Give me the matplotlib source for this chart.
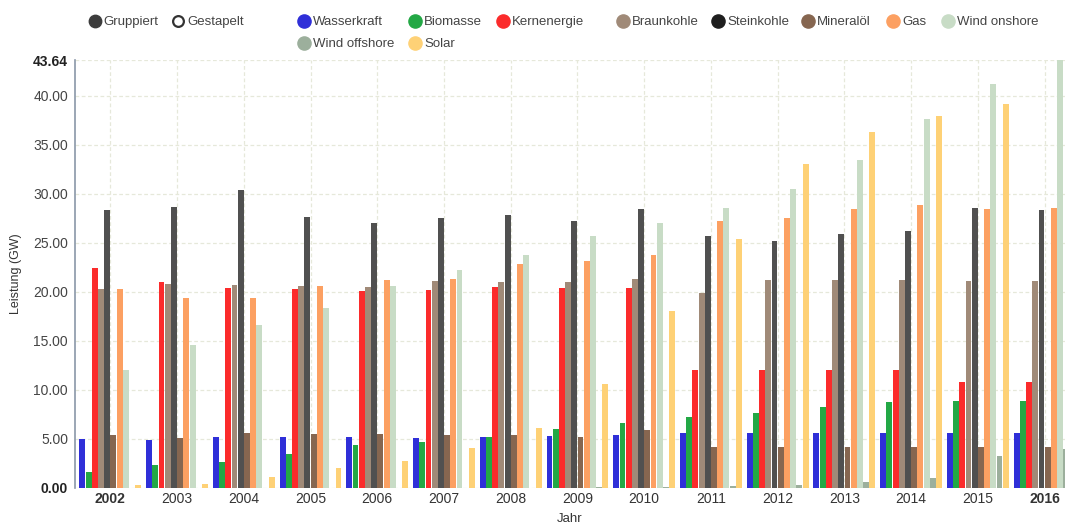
import numpy as np
import matplotlib
matplotlib.use("Agg")
import matplotlib.pyplot as plt

plt.rcParams['font.family'] = ['Liberation Sans', 'DejaVu Sans']

years = ["2002", "2003", "2004", "2005", "2006", "2007", "2008", "2009",
         "2010", "2011", "2012", "2013", "2014", "2015", "2016"]

wasserkraft = [5.0, 4.9, 5.2, 5.2, 5.2, 5.1, 5.2, 5.3, 5.4, 5.6, 5.6, 5.6, 5.6, 5.6, 5.6]
biomasse = [1.6, 2.3, 2.6, 3.5, 4.4, 4.7, 5.2, 6.0, 6.6, 7.2, 7.6, 8.3, 8.8, 8.9, 8.9]
kernenergie = [22.4, 21.0, 20.4, 20.3, 20.1, 20.2, 20.5, 20.4, 20.4, 12.0, 12.0, 12.0, 12.0, 10.8, 10.8]
braunkohle = [20.3, 20.8, 20.7, 20.6, 20.5, 21.1, 21.0, 21.0, 21.3, 19.9, 21.2, 21.2, 21.2, 21.1, 21.1]
steinkohle = [28.3, 28.7, 30.4, 27.6, 27.0, 27.5, 27.8, 27.2, 28.4, 25.7, 25.2, 25.9, 26.2, 28.6, 28.3]
mineraloel = [5.4, 5.1, 5.6, 5.5, 5.5, 5.4, 5.4, 5.2, 5.9, 4.2, 4.2, 4.2, 4.2, 4.2, 4.2]
gas = [20.3, 19.4, 19.4, 20.6, 21.2, 21.3, 22.8, 23.1, 23.8, 27.2, 27.5, 28.4, 28.9, 28.4, 28.5]
wind_onshore = [12.0, 14.6, 16.6, 18.4, 20.6, 22.2, 23.8, 25.7, 27.0, 28.5, 30.5, 33.4, 37.6, 41.2, 43.64]
wind_offshore = [0.0, 0.0, 0.0, 0.0, 0.0, 0.0, 0.0, 0.1, 0.1, 0.2, 0.3, 0.6, 1.0, 3.3, 4.0]
solar = [0.3, 0.4, 1.1, 2.0, 2.8, 4.1, 6.1, 10.6, 18.0, 25.4, 33.0, 36.3, 37.9, 39.2, 40.0]

series = [
    ("Wasserkraft", wasserkraft, "#2f2fd8"),
    ("Biomasse", biomasse, "#23a845"),
    ("Kernenergie", kernenergie, "#fb2b2b"),
    ("Braunkohle", braunkohle, "#a08a78"),
    ("Steinkohle", steinkohle, "#505050"),
    ("Mineralöl", mineraloel, "#866650"),
    ("Gas", gas, "#fca062"),
    ("Wind onshore", wind_onshore, "#c8dcc6"),
    ("Wind offshore", wind_offshore, "#9caf9c"),
    ("Solar", solar, "#fed176"),
]
ymax = max(wind_onshore)

fig = plt.figure(figsize=(10.71, 5.31), dpi=100)
ax = fig.add_axes([0.070, 0.081, 0.924, 0.806])

x = np.arange(len(years))
w = 0.093
for j, (name, vals, col) in enumerate(series):
    ax.bar(x + (j - 4.5) * w, vals, width=w * 0.95, color=col, zorder=3)

ax.set_xlim(-0.53, 14.3)
ax.set_ylim(0, ymax)
yt = [0, 5, 10, 15, 20, 25, 30, 35, 40, ymax]
ax.set_yticks(yt)
ax.set_yticklabels(["%.2f" % v for v in yt])
ax.set_xticks(x)
ax.set_xticklabels(years)
for i, lab in enumerate(ax.get_yticklabels()):
    lab.set_color("#444444")
    if i in (0, len(yt) - 1):
        lab.set_fontweight("bold")
        lab.set_color("#222222")
for i, lab in enumerate(ax.get_xticklabels()):
    lab.set_color("#333333")
    if i in (0, len(years) - 1):
        lab.set_fontweight("bold")
ax.tick_params(axis="both", length=0, labelsize=10)
ax.tick_params(axis="y", pad=5)
ax.tick_params(axis="x", pad=3)

ax.grid(True, color="#e6e8da", linestyle=(0, (3, 2)), linewidth=0.9, zorder=0)
for s in ["top", "right", "bottom"]:
    ax.spines[s].set_visible(False)
ax.spines["left"].set_color("#8a97a8")
ax.spines["left"].set_linewidth(1.2)

ax.set_ylabel("Leistung (GW)", fontsize=9, color="#333333", labelpad=8)
ax.set_xlabel("Jahr", fontsize=9.5, color="#333333", labelpad=5)

# legend drawn in pixel coordinates
lg = fig.add_axes([0, 0, 1, 1], zorder=5)
lg.set_xlim(0, 1071)
lg.set_ylim(531, 0)
lg.axis("off")

lg.scatter([95], [21], s=80, color="#3c3c3c")
lg.text(103, 22, "Gruppiert", va="center", fontsize=9.5, color="#444444")
lg.scatter([178], [21], s=60, facecolor="white", edgecolor="#333333", linewidth=1.6)
lg.text(187, 22, "Gestapelt", va="center", fontsize=9.5, color="#444444")

leg_pos = [(304, 21), (415, 21), (503, 21), (623, 21), (718, 21),
           (808, 21), (893, 21), (948, 21), (304, 43), (415, 43)]
for (name, vals, col), (px, py) in zip(series, leg_pos):
    c = "#1e1e1e" if name == "Steinkohle" else col
    lg.scatter([px], [py], s=90, color=c)
    lg.text(px + 9, py + 1, name, va="center", fontsize=9.5, color="#444444")

fig.savefig("out.png", dpi=100)
